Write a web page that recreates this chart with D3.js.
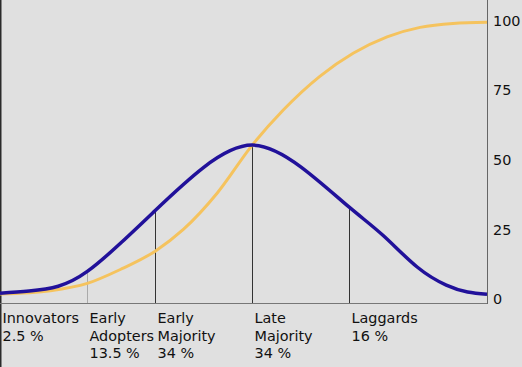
<!DOCTYPE html>
<html>
<head>
<meta charset="utf-8">
<script src="https://cdn.jsdelivr.net/npm/d3@7"></script>
<style>
  html, body { margin: 0; padding: 0; background: #e0e0e0; }
  svg { display: block; }
  text { font-family: 'DejaVu Sans', sans-serif; font-size: 14.4px; fill: #111; }
</style>
</head>
<body>
<svg id="chart" width="522" height="367"></svg>
<script>
// x is measured in standard deviations from the mean
const adopterX = [-2.6, -2.3, -2.0, -1.7, -1.35, -1.0, -0.5, 0, 0.5, 1.0, 1.35, 1.7, 2.0, 2.22, 2.42];
const adopterShare = [2.1, 2.9, 4.6, 9.9, 20.3, 31.8, 47.3, 55.3, 47.5, 33.0, 22.8, 11.5, 5.0, 2.5, 1.7];

const cumulativeX = [-2.6, -2.08, -1.7, -1.36, -1.0, -0.71, -0.36, 0, 0.32, 0.7, 1.04, 1.39, 1.73, 2.07, 2.42];
const marketShare = [1.8, 3.0, 5.6, 10.6, 17.2, 25.0, 38.1, 55.3, 67.9, 80.1, 88.3, 94.2, 97.6, 99.0, 99.4];

// group boundaries (start of each group after the first)
const boundaries = [-1.7, -1.0, 0, 1.0];
const categories = ['Innovators', 'Early Adopters', 'Early Majority', 'Late Majority', 'Laggards'];
const categoryLines = [['Innovators'], ['Early', 'Adopters'], ['Early', 'Majority'], ['Late', 'Majority'], ['Laggards']];
const categoryShares = ['2.5 %', '13.5 %', '34 %', '34 %', '16 %'];
const yTicks = [0, 25, 50, 75, 100];

const svg = d3.select('#chart');
const plotRight = 487.5;
const plotBottom = 303;

const x = d3.scaleLinear().domain([-2.6, 2.42]).range([0, 487]);
const y = d3.scaleLinear().domain([0, 100]).range([299, 20.7]);

// frame: left edge, baseline, right axis
svg.append('line')
    .attr('x1', 0.75).attr('x2', 0.75)
    .attr('y1', 0).attr('y2', 367)
    .attr('stroke', '#2a2a2a')
    .attr('stroke-width', 1.5);

svg.append('line')
    .attr('x1', 0).attr('x2', plotRight)
    .attr('y1', plotBottom + 0.5).attr('y2', plotBottom + 0.5)
    .attr('stroke', '#777')
    .attr('stroke-width', 1);

svg.append('line')
    .attr('x1', plotRight).attr('x2', plotRight)
    .attr('y1', 0).attr('y2', plotBottom + 1)
    .attr('stroke', '#666')
    .attr('stroke-width', 1);

// group divider lines, from the bell curve down to the baseline
boundaries.forEach((b, i) => {
    const idx = adopterX.indexOf(b);
    const xp = Math.round(x(b)) + 0.5;
    svg.append('line')
        .attr('x1', xp).attr('x2', xp)
        .attr('y1', y(adopterShare[idx]))
        .attr('y2', plotBottom)
        .attr('stroke', i === 0 ? '#aaa' : '#333')
        .attr('stroke-width', 1);
});

const cumulativeLine = d3.line().curve(d3.curveMonotoneX);
const bellLine = d3.line().curve(d3.curveNatural);

svg.append('path')
    .attr('d', cumulativeLine(cumulativeX.map((d, i) => [x(d), y(marketShare[i])])))
    .attr('fill', 'none')
    .attr('stroke', '#f5c35e')
    .attr('stroke-width', 3);

svg.append('path')
    .attr('d', bellLine(adopterX.map((d, i) => [x(d), y(adopterShare[i])])))
    .attr('fill', 'none')
    .attr('stroke', '#21119a')
    .attr('stroke-width', 3.5);

// right axis labels
svg.selectAll('.ytick')
    .data(yTicks)
    .enter().append('text')
    .attr('class', 'ytick')
    .attr('x', 493)
    .attr('y', d => y(d))
    .attr('dy', '0.36em')
    .text(d => d);

// category labels
const starts = [0].concat(boundaries.map(b => x(b)));
categories.forEach((c, i) => {
    const lines = categoryLines[i].concat([categoryShares[i]]);
    const tx = i === 0 ? 2.5 : Math.round(starts[i]) + 2.5;
    const t = svg.append('text')
        .attr('x', tx)
        .attr('y', 323);
    lines.forEach((l, j) => {
        t.append('tspan')
            .attr('x', tx)
            .attr('dy', j === 0 ? 0 : 17.5)
            .text(l);
    });
});
</script>
</body>
</html>
